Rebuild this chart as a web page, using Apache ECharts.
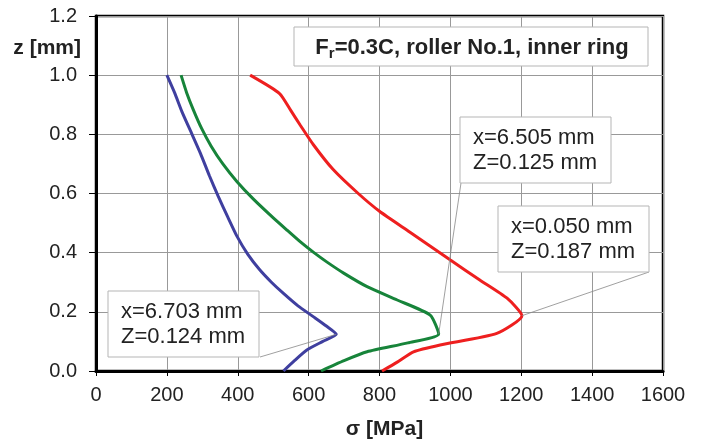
<!DOCTYPE html>
<html><head><meta charset="utf-8">
<script src="https://cdn.jsdelivr.net/npm/echarts@6/dist/echarts.min.js"></script>
<style>html,body{margin:0;padding:0;background:#fff}#c{width:705px;height:446px}</style>
</head><body><div id="c"></div>
<script>
// stress sigma [MPa] vs depth z [mm]
const blueSigma = [200,222,243,271,295,320,345,372,398,428,462,495,529,570,614,650,678,640,595,560,529];
const blueZ     = [1.0,0.94,0.875,0.80,0.735,0.66,0.59,0.52,0.455,0.395,0.342,0.30,0.262,0.22,0.183,0.152,0.124,0.10,0.071,0.035,0.0];
const greenSigma = [240,256,275,298,325,358,398,445,498,540,576,615,652,700,765,850,943,967,880,765,700,635];
const greenZ     = [1.0,0.94,0.882,0.82,0.76,0.70,0.64,0.58,0.52,0.475,0.437,0.40,0.368,0.33,0.285,0.24,0.189,0.125,0.095,0.065,0.035,0.0];
const redSigma = [435,518,550,577,614,670,740,800,885,1000,1084,1160,1202,1131,971,896,850,807];
const redZ     = [1.0,0.938,0.88,0.83,0.764,0.68,0.60,0.54,0.47,0.375,0.307,0.246,0.187,0.127,0.088,0.065,0.03,0.0];
const xTicks = [0,200,400,600,800,1000,1200,1400,1600];
const yTicks = [0.0,0.2,0.4,0.6,0.8,1.0,1.2];
const titleText = '=0.3C, roller No.1, inner ring';
const blueLabel = ['x=6.703 mm','Z=0.124 mm'];
const greenLabel = ['x=6.505 mm','Z=0.125 mm'];
const redLabel = ['x=0.050 mm','Z=0.187 mm'];
const bluePeak = [678,0.124];
const greenPeak = [967,0.125];
const redPeak = [1202,0.187];

const FONT = 'Liberation Sans, Arial, sans-serif';
function pairs(a,b){return a.map((v,i)=>[v,b[i]]);}
const chart = echarts.init(document.getElementById('c'), null, {renderer:'canvas'});
const line = (name,color,x,y)=>({name,type:'line',data:pairs(x,y),showSymbol:false,symbol:'none',smooth:0.2,
  lineStyle:{color,width:3},itemStyle:{color},z:3,animation:false});
chart.setOption({
  animation:false,
  backgroundColor:'#fff',
  grid:{left:96,right:42,top:16,bottom:75,show:true,borderColor:'#000',borderWidth:2.5,backgroundColor:'transparent'},
  xAxis:{type:'value',min:xTicks[0],max:xTicks[xTicks.length-1],interval:xTicks[1]-xTicks[0],
    name:'σ [MPa]',nameLocation:'middle',nameGap:48,
    nameTextStyle:{fontFamily:FONT,fontSize:21,fontWeight:'bold',color:'#222',padding:[0,0,0,10]},
    axisLine:{show:true,onZero:false,lineStyle:{color:'#000',width:3}},
    axisTick:{show:true,length:5,lineStyle:{color:'#000',width:1}},
    axisLabel:{fontFamily:FONT,fontSize:20,color:'#222',margin:14,formatter:v=>String(v)},
    splitLine:{show:true,lineStyle:{color:'#999',width:1}}},
  yAxis:{type:'value',min:yTicks[0],max:yTicks[yTicks.length-1],interval:0.2,
    axisLine:{show:true,onZero:false,lineStyle:{color:'#000',width:3}},
    axisTick:{show:true,length:7,lineStyle:{color:'#000',width:1}},
    axisLabel:{fontFamily:FONT,fontSize:20,color:'#222',margin:19,formatter:v=>v.toFixed(1)},
    splitLine:{show:true,lineStyle:{color:'#999',width:1}}},
  series:[line('blue','#3f3f9f',blueSigma,blueZ),line('green','#17843a',greenSigma,greenZ),line('red','#ee1f1f',redSigma,redZ)]
});

function box(x,y,w,h){return {type:'rect',shape:{x,y,width:w,height:h},style:{fill:'#fff',stroke:'#b5b5b5',lineWidth:1},z:10};}
function txt(x,y,lines){return {type:'text',x,y,style:{text:lines.join('\n'),fontFamily:FONT,fontSize:22,lineHeight:25,fill:'#222',textAlign:'left',textVerticalAlign:'top'},z:11};}
function leader(x,y,peak){const p=chart.convertToPixel({gridIndex:0},peak);
  return {type:'line',shape:{x1:x,y1:y,x2:p[0],y2:p[1]},style:{stroke:'#888',lineWidth:0.8},z:9};}

chart.setOption({graphic:[
  box(294,27,354,39),
  {type:'text',x:472,y:48,style:{rich:{
      m:{fontFamily:FONT,fontSize:22,fontWeight:'bold',fill:'#222'},
      s:{fontFamily:FONT,fontSize:15,fontWeight:'bold',fill:'#222',padding:[11,0,0,0]}},
    text:'{m|F}{s|r}{m|'+titleText+'}',textAlign:'center',textVerticalAlign:'middle'},z:11},
  {type:'text',x:81,y:48,style:{text:'z [mm]',fontFamily:FONT,fontSize:21,fontWeight:'bold',fill:'#222',textAlign:'right',textVerticalAlign:'middle'},z:11},
  leader(260,357,bluePeak), box(108,291,151,66), txt(121,299,blueLabel),
  leader(461,183,greenPeak), box(460,117,151,66), txt(473,125,greenLabel),
  leader(649,272,redPeak), box(498,206,151,66), txt(511,214,redLabel)
]});
</script></body></html>
